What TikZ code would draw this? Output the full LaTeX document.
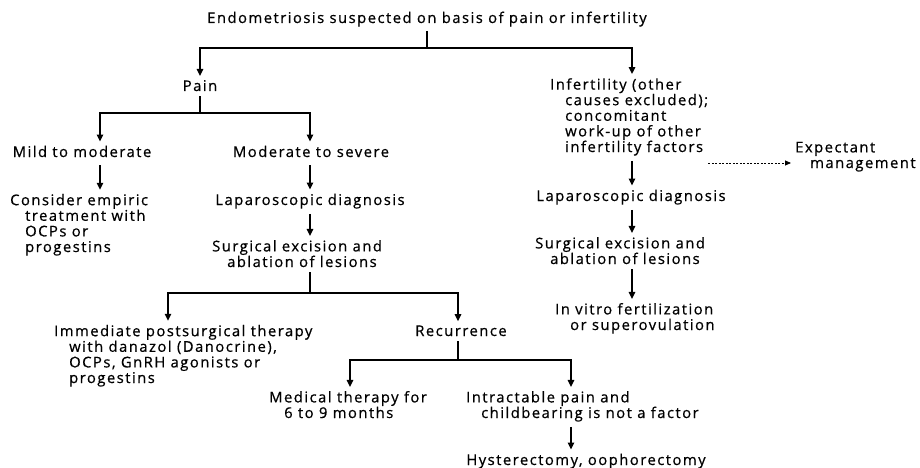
\documentclass[tikz,border=0pt]{standalone}
\usepackage{fontspec}
\setmainfont{Open Sans}[LetterSpace=10, FakeBold=0.6]
\usetikzlibrary{arrows.meta}
\newcommand{\hi}{\hspace*{15pt}}
\begin{document}
\begin{tikzpicture}[x=1pt, y=-1pt,
    txt/.style={inner sep=0pt, align=left, font=\fontsize{14.8}{15.6}\selectfont},
    ln/.style={line width=1.4pt},
    arr/.style={line width=1.4pt, -{Triangle[length=7pt,width=6.5pt]}, shorten >=4pt},
    dsh/.style={line width=0.8pt, dash pattern=on 2pt off 1.5pt, -{Triangle[length=6pt,width=5pt]}, shorten >=4pt}]
\useasboundingbox (0,0) rectangle (920,468);
% columns of the vertical arrows and junctions
\foreach \n/\x in {ca/100, cb/310, cc/168, cd/458, ce/350, cf/571, cg/632} \coordinate (\n) at (\x,0);
\coordinate (j1) at (427,48); \coordinate (j2) at (200,113);
\coordinate (j3) at (310,293); \coordinate (j4) at (458,360);
% single line nodes
\node[txt, anchor=base] (top) at (427,23) {Endometriosis suspected on basis of pain or infertility};
\node[txt, anchor=base] (pain) at (200,91) {Pain};
\node[txt, anchor=base] (mild) at (82,157) {Mild to moderate};
\node[txt, anchor=base] (modsev) at (311,157) {Moderate to severe};
\node[txt, anchor=base] (lap1) at (310,205) {Laparoscopic diagnosis};
\node[txt, anchor=base] (recur) at (461,336) {Recurrence};
\node[txt, anchor=base] (lap2) at (631,201) {Laparoscopic diagnosis};
\node[txt, anchor=base] (hyst) at (586,465) {Hysterectomy, oophorectomy};
% multi line nodes, placed by the baseline of their last line
\node[txt, anchor=base west] (consider) at (10,252) {Consider empiric\\\hi treatment with\\\hi OCPs or\\\hi progestins};
\node[txt, anchor=base west] (surg1) at (212,267) {Surgical excision and\\\hi ablation of lesions};
\node[txt, anchor=base west] (immed) at (54,383) {Immediate postsurgical therapy\\\hi with danazol (Danocrine),\\\hi OCPs, GnRH agonists or\\\hi progestins};
\node[txt, anchor=base west] (medical) at (269,418) {Medical therapy for\\\hi 6 to 9 months};
\node[txt, anchor=base west] (intract) at (466,418) {Intractable pain and\\\hi childbearing is not a factor};
\node[txt, anchor=base west] (infert) at (550,152) {Infertility (other\\\hi causes excluded);\\\hi concomitant\\\hi work-up of other\\\hi infertility factors};
\node[txt, anchor=base west] (expect) at (795,168) {Expectant\\\hi management};
\node[txt, anchor=base west] (surg2) at (535,264) {Surgical excision and\\\hi ablation of lesions};
\node[txt, anchor=base west] (ivf) at (555,330) {In vitro fertilization\\\hi or superovulation};
% connectors
\draw[ln, shorten <=4pt] (top) -- (j1);
\draw[arr] (j1) -| (pain);
\draw[arr] (j1) -| (infert.north -| cg);
\draw[ln, shorten <=5pt] (pain) -- (j2);
\draw[arr] (j2) -| (mild.north -| ca);
\draw[arr] (j2) -| (modsev.north -| cb);
\draw[arr, shorten <=8pt] (mild.south -| ca) -- (consider.north -| ca);
\draw[arr, shorten <=8pt] (modsev.south -| cb) -- (lap1.north -| cb);
\draw[arr, shorten <=5pt] (lap1.south -| cb) -- (surg1.north -| cb);
\draw[ln, shorten <=5pt] (surg1.south -| cb) -- (j3);
\draw[arr] (j3) -| (immed.north -| cc);
\draw[arr] (j3) -| (recur.north -| cd);
\draw[ln, shorten <=5pt] (recur.south -| cd) -- (j4);
\draw[arr] (j4) -| (medical.north -| ce);
\draw[arr] (j4) -| (intract.north -| cf);
\draw[arr, shorten <=5pt] (intract.south -| cf) -- (hyst.north -| cf);
\draw[arr, shorten <=5pt] (infert.south -| cg) -- (lap2.north -| cg);
\draw[arr, shorten <=5pt] (lap2.south -| cg) -- (surg2.north -| cg);
\draw[arr, shorten <=5pt] (surg2.south -| cg) -- (ivf.north -| cg);
\coordinate (d1) at ([yshift=5pt]expect.base west);
\draw[dsh] (d1 -| infert.east) -- (d1);
\end{tikzpicture}
\end{document}
